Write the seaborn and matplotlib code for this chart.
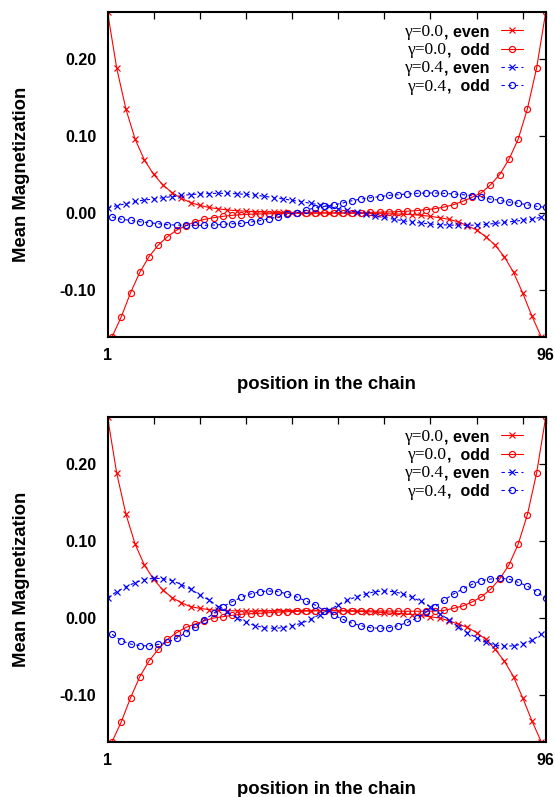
import matplotlib
matplotlib.use("Agg")
import matplotlib.pyplot as plt
import seaborn as sns

# ---------------- data ----------------
pos_even = list(range(1, 96, 2))   # sites used by the "even" series
pos_odd = list(range(2, 97, 2))    # sites used by the "odd" series

top_red_even = [0.2614, 0.1880, 0.1347, 0.0957, 0.0688, 0.0502, 0.0364, 0.0264, 0.0190, 0.0136,
                0.0099, 0.0072, 0.0054, 0.0040, 0.0030, 0.0023, 0.0018, 0.0014, 0.0011, 0.0008,
                0.0006, 0.0004, 0.0002, 0.0001, 0.0000, -0.0001, -0.0002, -0.0004, -0.0005, -0.0007,
                -0.0009, -0.0012, -0.0015, -0.0022, -0.0030, -0.0043, -0.0061, -0.0082, -0.0113, -0.0165,
                -0.0221, -0.0307, -0.0416, -0.0567, -0.0770, -0.1040, -0.1340, -0.1606]
top_red_odd = [-0.1606, -0.1346, -0.1035, -0.0770, -0.0567, -0.0416, -0.0307, -0.0221, -0.0165, -0.0113,
               -0.0082, -0.0061, -0.0043, -0.0030, -0.0022, -0.0015, -0.0012, -0.0009, -0.0007, -0.0005,
               -0.0004, -0.0002, -0.0001, 0.0000, 0.0001, 0.0002, 0.0004, 0.0006, 0.0008, 0.0011,
               0.0014, 0.0018, 0.0024, 0.0031, 0.0043, 0.0057, 0.0078, 0.0108, 0.0152, 0.0204,
               0.0262, 0.0364, 0.0500, 0.0695, 0.0957, 0.1350, 0.1880, 0.2614]
top_blue_even = [0.0065, 0.0095, 0.0121, 0.0150, 0.0169, 0.0182, 0.0199, 0.0212, 0.0228, 0.0240,
                 0.0247, 0.0253, 0.0256, 0.0255, 0.0250, 0.0242, 0.0232, 0.0218, 0.0200, 0.0184,
                 0.0165, 0.0148, 0.0126, 0.0106, 0.0085, 0.0058, 0.0036, 0.0010, -0.0012, -0.0040,
                 -0.0058, -0.0080, -0.0100, -0.0118, -0.0130, -0.0143, -0.0152, -0.0156, -0.0160, -0.0160,
                 -0.0156, -0.0147, -0.0136, -0.0122, -0.0108, -0.0095, -0.0080, -0.0055]
top_blue_odd = [-0.0052, -0.0082, -0.0095, -0.0113, -0.0126, -0.0139, -0.0152, -0.0156, -0.0160, -0.0160,
                -0.0160, -0.0156, -0.0147, -0.0139, -0.0134, -0.0117, -0.0100, -0.0074, -0.0052, -0.0017,
                0.0004, 0.0035, 0.0069, 0.0087, 0.0104, 0.0130, 0.0160, 0.0182, 0.0199, 0.0212,
                0.0229, 0.0238, 0.0247, 0.0255, 0.0260, 0.0260, 0.0255, 0.0247, 0.0238, 0.0225,
                0.0203, 0.0182, 0.0165, 0.0143, 0.0126, 0.0108, 0.0087, 0.0072]

bot_red_even = [0.2614, 0.1880, 0.1347, 0.0957, 0.0688, 0.0502, 0.0364, 0.0264, 0.0199, 0.0147,
                0.0126, 0.0108, 0.0100, 0.0095, 0.0093, 0.0092, 0.0092, 0.0092, 0.0093, 0.0094,
                0.0095, 0.0096, 0.0096, 0.0096, 0.0096, 0.0095, 0.0091, 0.0087, 0.0082, 0.0078,
                0.0069, 0.0061, 0.0056, 0.0045, 0.0033, 0.0015, 0.0000, -0.0037, -0.0078, -0.0121,
                -0.0190, -0.0277, -0.0405, -0.0558, -0.0762, -0.1038, -0.1336, -0.1606]
bot_red_odd = [-0.1606, -0.1346, -0.1035, -0.0762, -0.0558, -0.0407, -0.0277, -0.0190, -0.0121, -0.0078,
               -0.0035, 0.0000, 0.0017, 0.0035, 0.0048, 0.0056, 0.0062, 0.0069, 0.0076, 0.0082,
               0.0087, 0.0091, 0.0094, 0.0095, 0.0095, 0.0095, 0.0094, 0.0093, 0.0092, 0.0091,
               0.0090, 0.0089, 0.0088, 0.0088, 0.0087, 0.0091, 0.0100, 0.0126, 0.0156, 0.0208,
               0.0273, 0.0372, 0.0506, 0.0688, 0.0957, 0.1340, 0.1880, 0.2614]
bot_blue_even = [0.0264, 0.0342, 0.0407, 0.0459, 0.0500, 0.0515, 0.0512, 0.0485, 0.0435, 0.0375,
                 0.0299, 0.0234, 0.0147, 0.0078, 0.0004, -0.0056, -0.0100, -0.0126, -0.0134, -0.0126,
                 -0.0100, -0.0069, -0.0017, 0.0045, 0.0104, 0.0169, 0.0230, 0.0277, 0.0315, 0.0342,
                 0.0351, 0.0342, 0.0315, 0.0268, 0.0215, 0.0143, 0.0056, -0.0022, -0.0113, -0.0190,
                 -0.0256, -0.0316, -0.0351, -0.0364, -0.0362, -0.0335, -0.0290, -0.0212]
bot_blue_odd = [-0.0212, -0.0294, -0.0338, -0.0359, -0.0362, -0.0342, -0.0316, -0.0264, -0.0190, -0.0113,
                -0.0026, 0.0061, 0.0147, 0.0212, 0.0268, 0.0312, 0.0342, 0.0351, 0.0342, 0.0312,
                0.0273, 0.0221, 0.0169, 0.0095, 0.0039, -0.0017, -0.0069, -0.0100, -0.0126, -0.0134,
                -0.0126, -0.0100, -0.0056, -0.0004, 0.0074, 0.0147, 0.0234, 0.0312, 0.0377, 0.0437,
                0.0485, 0.0506, 0.0515, 0.0506, 0.0463, 0.0416, 0.0342, 0.0255]

label_gamma = ["γ=0.0", "γ=0.0", "γ=0.4", "γ=0.4"]
label_parity = [", even", ",  odd", ", even", ",  odd"]
ytick_vals = [-0.10, 0.00, 0.10, 0.20]
ytick_text = ["-0.10", "0.00", "0.10", "0.20"]
xtick_vals = [1, 96]
xtick_text = ["1", "96"]
xminor_vals = [11, 21, 31, 41, 51, 61, 71, 81, 91]
xlabel_text = "position in the chain"
ylabel_text = "Mean Magnetization"

# ---------------- style ----------------
sns.set_style("white")
plt.rcParams["font.family"] = ["Liberation Sans", "DejaVu Sans"]
plt.rcParams["font.weight"] = "bold"
plt.rcParams["axes.labelweight"] = "bold"
plt.rcParams["text.color"] = "black"
plt.rcParams["axes.labelcolor"] = "black"

W, H = 555, 797
fig = plt.figure(figsize=(W / 100, H / 100), dpi=100)

def ax_rect(top_px, bottom_px, left_px=107.5, right_px=545.8):
    return [left_px / W, 1 - bottom_px / H, (right_px - left_px) / W, (bottom_px - top_px) / H]

ax_top = fig.add_axes(ax_rect(11.7, 336.7))
ax_bot = fig.add_axes(ax_rect(416.7, 741.7))

RED = "#ff0000"
BLUE = "#0000ff"
styles = [
    (RED, "x", "-"),
    (RED, "o", "-"),
    (BLUE, "x", (0, (3, 3))),
    (BLUE, "o", (0, (3, 3))),
]

all_vals = top_red_even + top_red_odd + top_blue_even + top_blue_odd
ymin, ymax = min(all_vals), max(all_vals)

def draw_panel(ax, series):
    for i, ((xs, ys), (col, mk, ls)) in enumerate(zip(series, styles)):
        sns.lineplot(x=xs, y=ys, ax=ax, color=col, marker=mk, linestyle=ls,
                     lw=0.8, ms=4.4, mew=0.85, mec=col, mfc="none",
                     label=label_parity[i], sort=False, estimator=None)
    ax.set_xlim(1, 96)
    ax.set_ylim(ymin, ymax)
    ax.set_yticks(ytick_vals)
    ax.set_yticklabels(ytick_text)
    ax.set_xticks(xtick_vals)
    ax.set_xticklabels(xtick_text)
    ax.set_xticks(xminor_vals, minor=True)
    ax.tick_params(which="both", direction="in", length=5, width=0.9,
                   top=True, right=True, labelsize=11.5, pad=8, colors="black")
    for lab in ax.get_xticklabels() + ax.get_yticklabels():
        lab.set_fontweight("bold")
    for sp in ax.spines.values():
        sp.set_linewidth(1.5)
        sp.set_color("black")
    ax.set_xlabel(xlabel_text, fontsize=13.3, fontweight="bold", color="black")
    ax.set_ylabel(ylabel_text, fontsize=13.3, fontweight="bold", color="black")
    ax.xaxis.set_label_coords(0.5, -0.122)
    ax.yaxis.set_label_coords(-0.176, 0.5)
    leg = ax.legend(loc="upper right", bbox_to_anchor=(0.948, 0.962),
                    frameon=False, markerfirst=False, borderaxespad=0, borderpad=0,
                    handlelength=1.35, handletextpad=0.75, labelspacing=0.2,
                    prop={"weight": "bold", "size": 11.5}, labelcolor="black")
    return leg

leg_top = draw_panel(ax_top, [(pos_even, top_red_even), (pos_odd, top_red_odd),
                              (pos_even, top_blue_even), (pos_odd, top_blue_odd)])
leg_bot = draw_panel(ax_bot, [(pos_even, bot_red_even), (pos_odd, bot_red_odd),
                              (pos_even, bot_blue_even), (pos_odd, bot_blue_odd)])

# serif "γ=..." part of each legend entry, placed just left of the bold text
fig.canvas.draw()
for leg in (leg_top, leg_bot):
    for i, t in enumerate(leg.get_texts()):
        x0, y0 = t.get_transform().transform(t.get_position())
        fig.text(x0 / W, y0 / H, label_gamma[i], ha="right", va="baseline",
                 fontsize=12.5, fontweight="normal", color="black",
                 family=["Liberation Serif", "DejaVu Serif"])

fig.savefig("out.png", dpi=100)
